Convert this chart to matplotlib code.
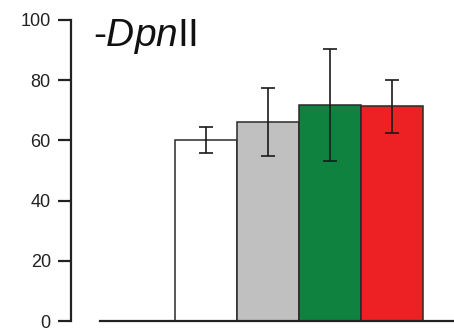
import matplotlib
matplotlib.use("Agg")
import matplotlib.pyplot as plt

plt.rcParams['font.family'] = ['Liberation Sans', 'DejaVu Sans']
plt.rcParams['mathtext.fontset'] = 'custom'
plt.rcParams['mathtext.rm'] = 'Liberation Sans'
plt.rcParams['mathtext.it'] = 'Liberation Sans:italic'

# values
groups = ['white', 'gray', 'green', 'red']
means = [60.2, 66.1, 71.8, 71.3]
errors = [4.3, 11.3, 18.6, 8.8]
colors = ['#ffffff', '#c0c0c0', '#108240', '#ed2024']
yticks = [0, 20, 40, 60, 80, 100]

fig = plt.figure(figsize=(4.54, 3.29), dpi=100)
ax = fig.add_axes([71 / 454, 8 / 329, 383 / 454, 301 / 329])

x = list(range(len(groups)))
ax.bar(x, means, width=1.0, color=colors, edgecolor='#2a2a2a', linewidth=1.1, zorder=2)
ax.errorbar(x, means, yerr=errors, fmt='none', ecolor='#1a1a1a',
            elinewidth=1.2, capsize=5, capthick=1.2, zorder=3)

ax.set_xlim(-2.177, 4.0)
ax.set_ylim(0, 100)
ax.set_yticks(yticks)
ax.set_xticks([])

for side in ['top', 'right']:
    ax.spines[side].set_visible(False)
ax.spines['left'].set_linewidth(1.6)
ax.spines['bottom'].set_linewidth(1.6)
ax.spines['bottom'].set_bounds(-1.71, 4.0)
ax.spines['left'].set_color('#222222')
ax.spines['bottom'].set_color('#222222')
ax.tick_params(axis='y', length=9.5, width=1.6, pad=5, labelsize=13,
               colors='#222222')

ax.text(93 / 454, 1 - 46 / 329, r'-$\it{Dpn}$II', transform=fig.transFigure,
        fontsize=28, ha='left', va='baseline', color='#111111')

fig.savefig('out.png', dpi=100)
